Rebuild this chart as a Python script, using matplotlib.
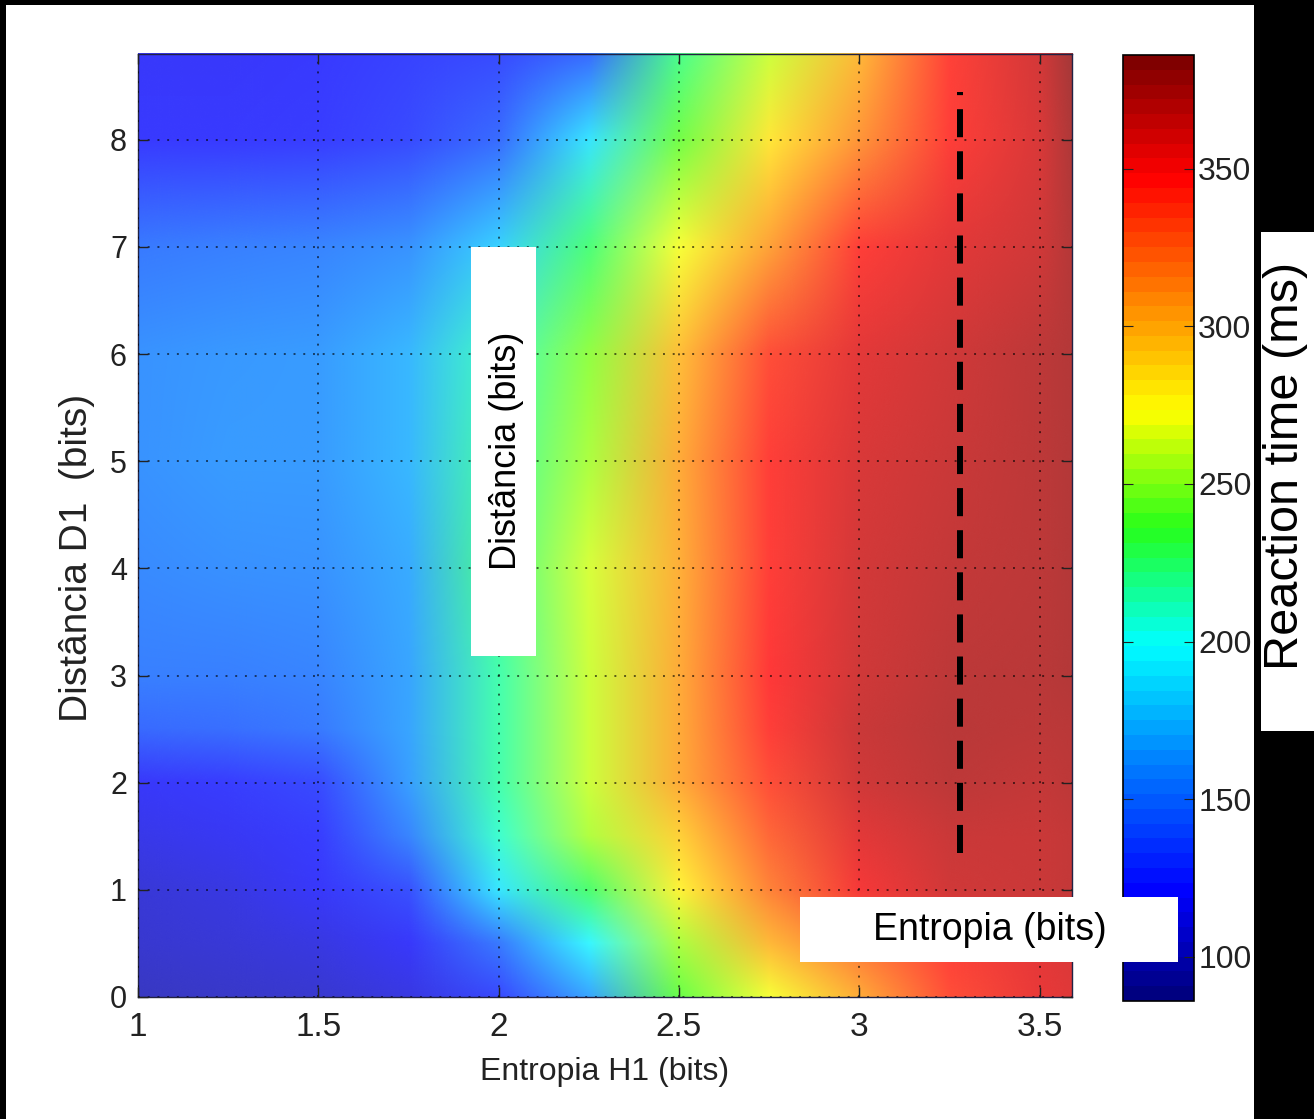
import numpy as np
import matplotlib
matplotlib.use('Agg')
from matplotlib import pyplot as plt
from matplotlib.image import NonUniformImage
from matplotlib.patches import Rectangle
from matplotlib.colors import Normalize, ListedColormap, LinearSegmentedColormap
from matplotlib.cm import ScalarMappable

# grid
entropia_h1 = [1.0, 1.25, 1.5, 1.75, 2.0, 2.25, 2.5, 2.75, 3.0, 3.25, 3.5, 3.59]
distancia_d1 = [0, 0.5, 1, 1.5, 2, 2.5, 3, 4, 5, 6, 7, 8, 8.8]

# reaction time (ms), one row per distancia value
rt_ms = [
    [100, 102, 104, 110, 127, 165, 240, 272, 305, 340, 356, 360],
    [104, 106, 110, 118, 148, 195, 255, 300, 325, 345, 358, 362],
    [106, 110, 118, 130, 190, 228, 278, 320, 352, 366, 368, 370],
    [112, 116, 122, 152, 208, 256, 290, 330, 358, 368, 368, 370],
    [118, 122, 128, 163, 215, 262, 305, 340, 365, 372, 370, 372],
    [140, 143, 148, 165, 215, 262, 305, 345, 368, 374, 372, 374],
    [150, 150, 152, 165, 215, 262, 305, 348, 366, 372, 374, 376],
    [155, 157, 158, 168, 222, 265, 303, 345, 364, 370, 372, 376],
    [158, 161, 162, 172, 218, 255, 305, 345, 362, 368, 372, 376],
    [158, 160, 162, 172, 212, 250, 298, 340, 358, 365, 372, 376],
    [148, 150, 152, 158, 182, 226, 272, 308, 346, 358, 366, 376],
    [120, 120, 122, 128, 142, 188, 242, 282, 313, 346, 362, 378],
    [118, 118, 120, 124, 128, 140, 222, 262, 300, 344, 364, 382],
]

x_ticks = [1, 1.5, 2, 2.5, 3, 3.5]
x_ticklabels = ['1', '1.5', '2', '2.5', '3', '3.5']
y_ticks = [0, 1, 2, 3, 4, 5, 6, 7, 8]
cb_ticks = [100, 150, 200, 250, 300, 350]
rt_min, rt_max = 86, 386

# dashed marker line
dash_x = 3.28
dash_y = [1.34, 8.45]

W, H = 1314, 1119
plt.rcParams['font.family'] = ['Liberation Sans', 'DejaVu Sans']

fig = plt.figure(figsize=(W / 100, H / 100), dpi=100, facecolor='black')

def px_rect(x0, y0, x1, y1):
    # pixel box (top-left origin) -> figure fraction
    return [x0 / W, 1 - y1 / H, (x1 - x0) / W, (y1 - y0) / H]

# white sheet over the black frame
r = px_rect(6, 5, 1254, 1119)
fig.patches.append(Rectangle((r[0], r[1]), r[2], r[3], transform=fig.transFigure,
                             facecolor='white', edgecolor='none', zorder=-5))

ax = fig.add_axes(px_rect(138, 54, 1072, 997))
norm = Normalize(vmin=rt_min, vmax=rt_max)

# jet-like map with a saturated green/yellow middle, like the original
jet_like = LinearSegmentedColormap.from_list('jet_like', [
    (0.0, (0, 0, 0.5)), (0.11, (0, 0, 1)), (0.25, (0, 0.5, 1)), (0.375, (0, 1, 1)),
    (0.5, (0.15, 1, 0.1)), (0.625, (1, 1, 0)), (0.75, (1, 0.5, 0)),
    (0.875, (1, 0, 0)), (1.0, (0.5, 0, 0))])

# surface is drawn semi-transparent over white -> washed-out colours
base = jet_like(np.linspace(0, 1, 256))
a = 0.78
washed = base.copy()
washed[:, :3] = base[:, :3] * a + (1 - a)
washed_cmap = ListedColormap(washed)

im = NonUniformImage(ax, interpolation='bilinear', cmap=washed_cmap, norm=norm,
                     extent=(entropia_h1[0], entropia_h1[-1], distancia_d1[0], distancia_d1[-1]))
im.set_data(np.array(entropia_h1), np.array(distancia_d1), np.array(rt_ms, dtype=float))
ax.add_image(im)

ax.plot([dash_x, dash_x], dash_y, color='black', lw=4.3, dashes=(4.7, 2.35), zorder=5)

ax.set_xlim(entropia_h1[0], entropia_h1[-1])
ax.set_ylim(distancia_d1[0], distancia_d1[-1])
ax.set_xticks(x_ticks)
ax.set_xticklabels(x_ticklabels)
ax.set_yticks(y_ticks)
ax.grid(True, color='black', alpha=0.6, linestyle=(0, (1, 4)), linewidth=1.4)
ax.set_axisbelow(False)
ax.tick_params(direction='in', length=7, width=1, top=True, right=True,
               colors='#222222')
ax.tick_params(axis='x', pad=11, labelsize=24)
ax.tick_params(axis='y', pad=8, labelsize=22)
for s in ax.spines.values():
    s.set_linewidth(1.0)
    s.set_color('#222244')

ax.set_xlabel('Entropia H1 (bits)', fontsize=23, color='#222222', labelpad=10)
ax.set_ylabel('Distância D1  (bits)', fontsize=28, color='#222222', va='center')
ax.yaxis.set_label_coords(-0.0653, 0.4655)

# colorbar (plain colours, 64 steps)
cax = fig.add_axes(px_rect(1123, 55, 1194, 1001))
sm = ScalarMappable(norm=norm, cmap=jet_like.resampled(64))
cb = fig.colorbar(sm, cax=cax)
cb.set_ticks(cb_ticks)
cb.set_ticklabels([str(t) for t in cb_ticks])
cb.outline.set_linewidth(1.2)
cax.tick_params(direction='in', length=7, left=True, right=True, labelsize=23, pad=3,
                colors='#222222')

# white boxes with the overlaid labels
for (x0, y0, x1, y1) in [(471, 247, 536, 656), (800, 897, 1178, 962), (1261, 232, 1314, 731)]:
    r = px_rect(x0, y0, x1, y1)
    fig.patches.append(Rectangle((r[0], r[1]), r[2], r[3], transform=fig.transFigure,
                                 facecolor='white', edgecolor='none', zorder=10))

fig.text(506 / W, 1 - 451 / H, 'Distância (bits)', rotation=90, fontsize=26,
         ha='center', va='center', zorder=11)
fig.text(990 / W, 1 - 930 / H, 'Entropia (bits)', fontsize=27,
         ha='center', va='center', zorder=11)
fig.text(1286 / W, 1 - 466 / H, 'Reaction time (ms)', rotation=90, fontsize=35,
         ha='center', va='center', zorder=11)

fig.savefig('out.png', dpi=100, facecolor=fig.get_facecolor())
